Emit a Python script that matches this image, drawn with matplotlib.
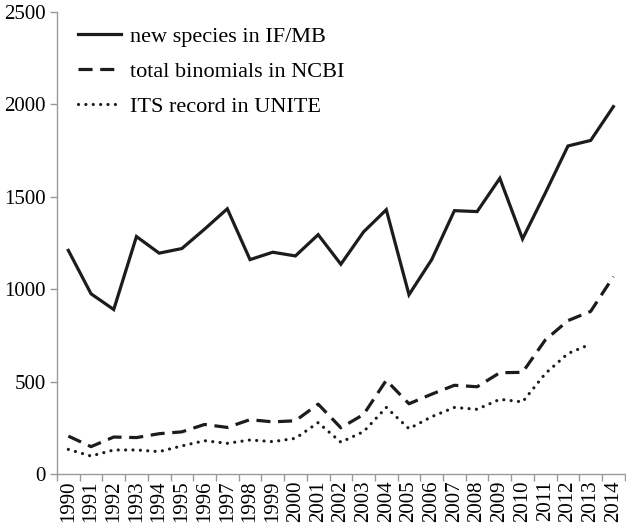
import numpy as np
import matplotlib
matplotlib.use('Agg')
import matplotlib.pyplot as plt
from matplotlib.ticker import FixedLocator

plt.rcParams['font.family'] = ['Liberation Serif', 'DejaVu Serif']

years = list(range(1990, 2015))

# new species described per year (Index Fungorum / MycoBank)
new_species = [1210, 975, 890, 1285, 1195, 1220, 1325, 1435, 1160, 1200,
               1180, 1295, 1135, 1310, 1430, 970, 1160, 1425, 1420, 1600,
               1272, 1520, 1775, 1805, 1988]
# total binomials in NCBI
ncbi_binomials = [205, 148, 200, 197, 218, 228, 268, 252, 294, 282,
                  288, 378, 250, 322, 507, 380, 432, 480, 472, 548,
                  550, 725, 830, 880, 1068]
# ITS records in UNITE (no value for 2014)
unite_its = [133, 97, 130, 130, 121, 152, 180, 166, 184, 175,
             193, 278, 172, 229, 360, 245, 310, 360, 350, 404,
             390, 543, 652, 703, None]

unite_years = [y for y, v in zip(years, unite_its) if v is not None]
unite_vals = [v for v in unite_its if v is not None]

fig = plt.figure(figsize=(6.26, 5.28), dpi=100)
ax = fig.add_axes([0.091, 0.1023, 0.907, 0.875])

col = '#1c1c1c'
lw = 2.3
ax.plot(years, new_species, color=col, lw=lw, solid_joinstyle='miter',
        label='new species in IF/MB')
ax.plot(years, ncbi_binomials, color=col, lw=lw, linestyle=(0, (4.4, 2.4)),
        dash_capstyle='butt', label='total binomials in NCBI')
ax.plot(unite_years, unite_vals, color=col, lw=lw, linestyle=(0, (0.01, 2.3)),
        dash_capstyle='round', label='ITS record in UNITE')

ax.set_xlim(1989.5, 2014.5)
ax.set_ylim(0, 2500)
ax.set_yticks([0, 500, 1000, 1500, 2000, 2500])
ax.set_xticks(years)
ax.set_xticklabels([str(y) for y in years], rotation=90)
ax.xaxis.set_minor_locator(FixedLocator(np.arange(1989.5, 2015.0, 1.0)))
ax.tick_params(axis='x', which='major', length=0, pad=4.5, labelsize=15)
ax.tick_params(axis='x', which='minor', length=5, color='#999999', width=1)
ax.tick_params(axis='y', length=5, color='#999999', width=1, labelsize=15, pad=3)

for s in ['top', 'right']:
    ax.spines[s].set_visible(False)
for s in ['left', 'bottom']:
    ax.spines[s].set_color('#999999')
    ax.spines[s].set_linewidth(1)

ax.legend(loc='upper left', bbox_to_anchor=(0.037, 0.969), frameon=False,
          borderpad=0, borderaxespad=0, fontsize=16, handlelength=1.94,
          handletextpad=0.4, labelspacing=0.65)

fig.savefig('out.png', dpi=100)
